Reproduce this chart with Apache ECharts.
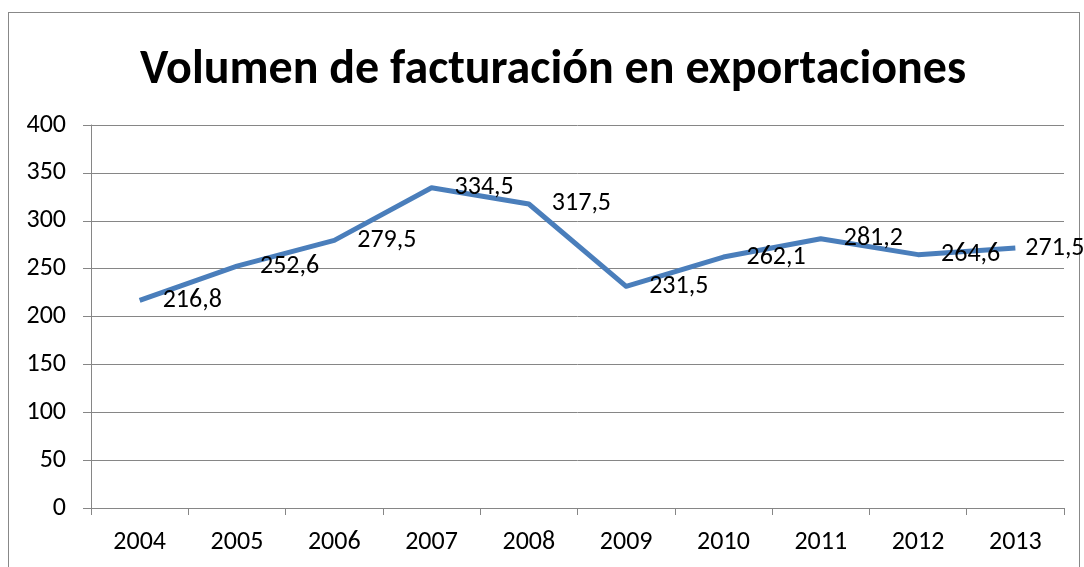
<!DOCTYPE html>
<html>
<head>
<meta charset="utf-8">
<script src="https://cdn.jsdelivr.net/npm/echarts@6/dist/echarts.min.js"></script>
<style>
  html, body { margin: 0; padding: 0; background: #fff; }
  #frame { position: absolute; left: 8px; top: 12px; width: 1072px; height: 570px; border: 1px solid #888; box-sizing: border-box; }
  #container { position: absolute; left: 0; top: 0; width: 1084px; height: 567px; }
</style>
</head>
<body>
<div id="frame"></div>
<div id="container"></div>
<script>
// datos del gráfico
var years = ['2004', '2005', '2006', '2007', '2008', '2009', '2010', '2011', '2012', '2013'];
var volumen = [216.8, 252.6, 279.5, 334.5, 317.5, 231.5, 262.1, 281.2, 264.6, 271.5];
var yTicks = [0, 50, 100, 150, 200, 250, 300, 350, 400];

var myChart = echarts.init(document.getElementById('container'));

var font = 'Carlito, "Open Sans", "Liberation Sans", sans-serif';

// el último rótulo queda más pegado a la línea para que quepa
var serieData = volumen.map(function (v, i) {
  if (i === volumen.length - 1) {
    return { value: v, label: { distance: 9 } };
  }
  return v;
});

var option = {
  animation: false,
  title: {
    text: 'Volumen de facturación en exportaciones',
    left: 548,
    top: 42,
    textAlign: 'center',
    textStyle: { fontFamily: font, fontSize: 48, fontWeight: 'bold', color: '#000' }
  },
  grid: { left: 91, right: 20, top: 125, bottom: 59, containLabel: false },
  xAxis: {
    type: 'category',
    data: years,
    boundaryGap: true,
    axisLine: { lineStyle: { color: '#868686', width: 1 } },
    axisTick: { show: true, length: 7, lineStyle: { color: '#868686' } },
    axisLabel: { color: '#000', fontFamily: font, fontSize: 26, margin: 21 }
  },
  yAxis: {
    type: 'value',
    min: yTicks[0],
    max: yTicks[yTicks.length - 1],
    interval: 50,
    axisLine: { show: true, lineStyle: { color: '#868686', width: 1 } },
    axisTick: { show: true, inside: false, length: 8, lineStyle: { color: '#868686' } },
    splitLine: { lineStyle: { color: '#868686', width: 1 } },
    axisLabel: { color: '#000', fontFamily: font, fontSize: 26, margin: 25 }
  },
  series: [{
    type: 'line',
    data: serieData,
    showSymbol: true,
    symbol: 'circle',
    symbolSize: 2,
    itemStyle: { color: 'rgba(0,0,0,0)', borderWidth: 0 },
    lineStyle: { color: '#4A7EBB', width: 5, join: 'round' },
    label: {
      show: true,
      position: 'right',
      distance: 22,
      offset: [0, 3],
      color: '#000',
      fontFamily: font,
      fontSize: 26,
      formatter: function (p) { return String(p.value).replace('.', ','); }
    },
    labelLayout: { hideOverlap: false }
  }]
};

myChart.setOption(option);
</script>
</body>
</html>
